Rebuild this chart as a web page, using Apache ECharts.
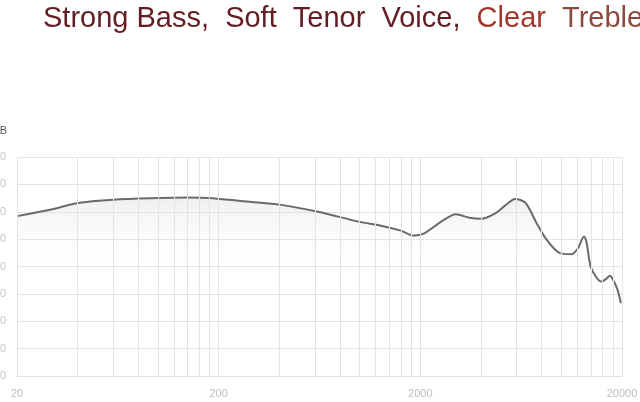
<!DOCTYPE html>
<html>
<head>
<meta charset="utf-8">
<script src="https://cdn.jsdelivr.net/npm/echarts@6/dist/echarts.min.js"></script>
<style>html,body{margin:0;padding:0;background:#fff}#c{width:640px;height:402px}</style>
</head>
<body>
<div id="c"></div>
<script>
const freqs = [20, 30, 40, 60, 100, 140, 180, 250, 400, 630, 1000, 1260, 1600, 1860, 2080, 2530, 3000, 3500, 4000, 4680, 5300, 5900, 6640, 7500, 8400, 9850, 11250, 12130, 12950, 13350, 13980, 14960, 15840, 16700, 17420, 18080, 19000, 19750];
const spl = [98.4, 100.9, 103.2, 104.4, 105.0, 105.2, 105.0, 104.0, 102.6, 99.9, 96.3, 95.0, 93.1, 91.3, 92.0, 96.3, 99.1, 97.8, 97.4, 99.3, 102.4, 104.7, 103.3, 96.2, 90.1, 84.9, 84.5, 86.8, 91.0, 88.7, 80.0, 75.9, 74.5, 75.5, 76.6, 75.1, 71.5, 66.6];
const gridFreqs = [20, 40, 60, 80, 100, 120, 140, 160, 180, 200, 400, 600, 800, 1000, 1200, 1400, 1600, 1800, 2000, 4000, 6000, 8000, 10000, 12000, 14000, 16000, 18000, 20000];
const xLabels = [20, 200, 2000, 20000];
const yMin = 40, yMax = 120, yStep = 10;
const titleParts = ['Strong Bass,  Soft  Tenor  Voice,', '  Clear', '  Treble'];

const chart = echarts.init(document.getElementById('c'), null, {renderer: 'canvas'});
chart.setOption({
  animation: false,
  backgroundColor: '#ffffff',
  title: {
    text: '{a|' + titleParts[0] + '}{b|' + titleParts[1] + '}{c|' + titleParts[2] + '}',
    left: 38, top: -1,
    textStyle: {
      fontFamily: 'Liberation Sans',
      fontSize: 29,
      fontWeight: 'normal',
      rich: {
        a: {color: '#621e22', fontSize: 29, fontFamily: 'Liberation Sans'},
        b: {color: '#a2352c', fontSize: 29, fontFamily: 'Liberation Sans'},
        c: {color: '#8c4a3e', fontSize: 29, fontFamily: 'Liberation Sans'}
      }
    }
  },
  grid: {left: 17, right: 18, top: 157, bottom: 26, containLabel: false, outerBoundsMode: 'none'},
  xAxis: {
    type: 'log', logBase: 10, min: 20, max: 20000,
    axisLine: {show: true, lineStyle: {color: '#e2e2e2'}},
    axisTick: {show: false},
    splitLine: {show: false},
    axisLabel: {
      customValues: xLabels,
      color: '#bdbdbd', fontSize: 11, margin: 12,
      fontFamily: 'Liberation Sans',
      formatter: v => String(Math.round(v))
    }
  },
  yAxis: {
    type: 'value', min: yMin, max: yMax, interval: yStep,
    name: 'dB',
    nameLocation: 'end', nameGap: 21,
    nameTextStyle: {color: '#555', fontSize: 11, align: 'right', padding: [0, 10, 0, 0], fontFamily: 'Liberation Sans'},
    axisLine: {show: false},
    axisTick: {show: false},
    splitLine: {show: true, lineStyle: {color: '#e4e4e4', width: 1}},
    axisLabel: {color: '#c4c4c4', fontSize: 11, margin: 11, fontFamily: 'Liberation Sans'}
  },
  series: [
    {
      type: 'line', data: [], z: 1, silent: true,
      markLine: {
        silent: true, symbol: ['none', 'none'], animation: false,
        label: {show: false},
        lineStyle: {color: '#e4e4e4', type: 'solid', width: 1},
        data: gridFreqs.map(f => ({xAxis: f}))
      }
    },
    {
      type: 'line', z: 3,
      data: freqs.map((f, i) => [f, spl[i]]),
      smooth: 0.3,
      showSymbol: false,
      lineStyle: {color: '#6a6a6a', width: 2},
      areaStyle: {
        color: new echarts.graphic.LinearGradient(0, 0, 0, 1, [
          {offset: 0, color: 'rgba(215,215,215,0.55)'},
          {offset: 0.4, color: 'rgba(255,255,255,0)'}
        ])
      }
    }
  ]
});
</script>
</body>
</html>
